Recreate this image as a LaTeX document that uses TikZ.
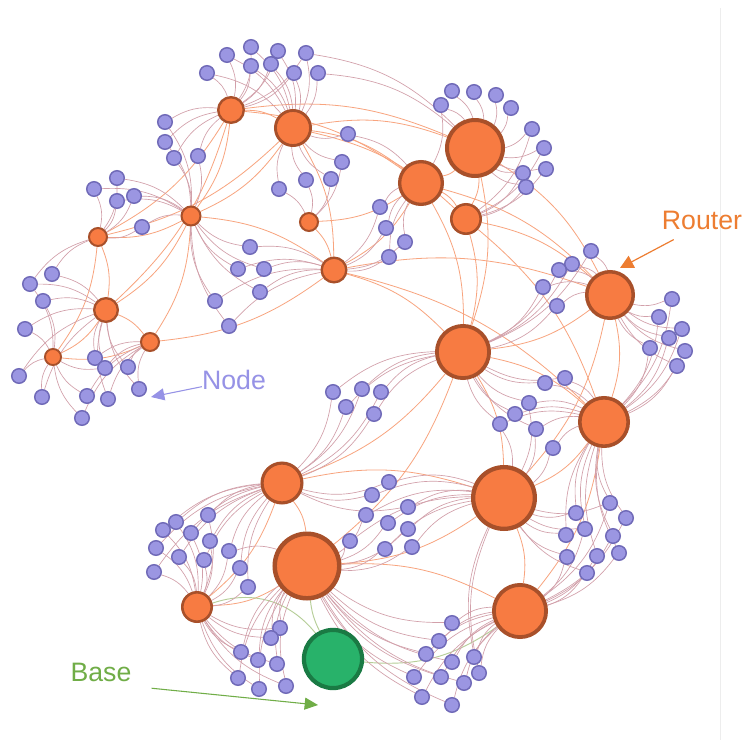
\documentclass[tikz,border=0pt]{standalone}
\usepackage{fontspec}
\setmainfont{Liberation Sans}
\usetikzlibrary{arrows.meta}
\pgfdeclarelayer{bg}
\pgfsetlayers{bg,main}
\definecolor{rfill}{RGB}{247,123,66}
\definecolor{rdraw}{RGB}{168,80,42}
\definecolor{nfill}{RGB}{155,150,226}
\definecolor{ndraw}{RGB}{112,106,184}
\definecolor{bfill}{RGB}{40,178,106}
\definecolor{bdraw}{RGB}{26,122,68}
\definecolor{linkc}{RGB}{210,160,170}
\definecolor{rlinkc}{RGB}{248,164,126}
\definecolor{blinkc}{RGB}{182,206,152}
\definecolor{routertxt}{RGB}{237,125,49}
\definecolor{nodetxt}{RGB}{150,146,230}
\definecolor{basetxt}{RGB}{112,173,71}

\begin{document}
\begin{tikzpicture}[x=0.75pt, y=-0.75pt,
    router/.style={circle, fill=rfill, draw=rdraw, inner sep=0pt},
    mote/.style={circle, fill=nfill, draw=ndraw, line width=1.1pt, inner sep=0pt, minimum size=10.9pt},
    link/.style={linkc, line width=0.5pt},
    rlink/.style={rlinkc, line width=0.6pt},
    blink/.style={blinkc, line width=0.7pt},
    tag/.style={font=\fontsize{20}{24}\selectfont, inner sep=0pt}]

    \useasboundingbox (0,0) rectangle (744,740);
    \begin{pgfonlayer}{bg}
        \fill[white] (0,0) rectangle (744,740);
        \draw[black!7, line width=0.75pt] (720,8) -- (720,740);
    \end{pgfonlayer}

    \foreach \rname/\x/\y/\rad in {r1/231/110/14, r2/293/128/19, r3/475/148/30, r4/421/183/23,
        r5/466/219/16, r6/191/216/10.5, r7/309/222/10, r8/98/237/10, r9/334/270/13.5,
        r10/610/295/25, r11/106/310/13, r12/150/342/10, r13/53/357/9, r14/463/352/28,
        r15/604/422/26, r16/282/483/21.5, r17/504/498/33, r18/307/566/34.5,
        r19/197/607/16, r20/520/611/28} {
        \node[router, line width=(1+\rad/10)*0.75pt, minimum size=(2*\rad-1-\rad/10)*0.75pt] (\rname) at (\x,\y) {};
    }
    \node[router, fill=bfill, draw=bdraw, line width=3.15pt, minimum size=43.6pt] (base) at (333,659) {};

    \begin{pgfonlayer}{bg}
        \foreach \a/\b in {r1/r2, r1/r3, r1/r4, r1/r8, r1/r11, r1/r6, r2/r3, r2/r4, r2/r6, r2/r9,
            r2/r5, r3/r4, r3/r5, r3/r10, r3/r14, r4/r7, r4/r9, r4/r14, r4/r5, r5/r14, r5/r10,
            r6/r8, r6/r11, r6/r12, r6/r9, r7/r9, r8/r11, r8/r13, r9/r14, r9/r12, r9/r10,
            r11/r12, r11/r13, r12/r13, r10/r14, r10/r15, r10/r17, r14/r15, r14/r16, r14/r17,
            r14/r18, r15/r17, r15/r20, r16/r18, r16/r17, r16/r19, r17/r18, r17/r20, r18/r19,
            r18/r20, r9/r15, r4/r10, r5/r15, r2/r8} {
            \draw[rlink] (\a) to[bend left=15] (\b);
        }
        \draw[blink] (base) to[bend left=10] (r18);
        \draw[blink] (base) to[bend right=35] (r19);
        \draw[blink] (base) to[bend right=20] (r20);
    \end{pgfonlayer}

    \foreach \x/\y/\rs [count=\i] in {
        207/73/{r1,r2}, 227/55/{r1,r2}, 251/47/{r1,r2}, 251/66/{r1,r2}, 271/64/{r1,r2},
        278/51/{r1,r2}, 306/53/{r1,r2,r3}, 294/73/{r1,r2}, 318/73/{r2,r3},
        165/122/{r1,r6}, 165/142/{r1,r6}, 174/158/{r1,r6}, 198/156/{r1,r6},
        348/134/{r2,r4}, 342/162/{r2,r7}, 306/180/{r2,r7}, 331/179/{r2,r7}, 279/189/{r2,r7},
        117/178/{r6,r8}, 94/189/{r6,r8}, 117/201/{r6,r8}, 134/196/{r6,r8}, 142/227/{r6,r8},
        250/247/{r6,r9}, 238/269/{r6,r9}, 264/269/{r6,r9}, 260/292/{r6,r9}, 215/301/{r6,r9},
        229/326/{r6,r9},
        52/274/{r8,r11}, 30/284/{r8,r11,r13}, 43/301/{r11,r13}, 25/329/{r11,r13},
        19/376/{r13,r11}, 42/397/{r13,r11}, 95/358/{r11,r12}, 105/368/{r11,r12,r13},
        128/367/{r11,r12}, 139/389/{r12,r11}, 87/396/{r13,r12}, 108/399/{r11,r12},
        82/418/{r13,r12},
        441/105/{r3,r4}, 452/91/{r3}, 474/92/{r3}, 496/95/{r3}, 511/108/{r3},
        532/129/{r3,r5}, 544/148/{r3,r5}, 523/173/{r3,r5}, 546/169/{r3,r5}, 526/187/{r3,r5},
        380/207/{r4,r9}, 386/228/{r4,r9}, 405/242/{r4,r9}, 389/257/{r4,r9},
        591/251/{r10,r14}, 572/264/{r10,r14}, 559/270/{r10,r14}, 543/287/{r10,r14},
        557/306/{r10,r14},
        672/299/{r10,r15}, 659/317/{r10,r15}, 682/329/{r10,r15}, 669/338/{r10,r15},
        650/348/{r10,r15}, 685/351/{r10,r15}, 677/366/{r10,r15},
        333/392/{r14,r16}, 362/389/{r14,r16}, 381/392/{r14,r16}, 346/407/{r14,r16},
        374/414/{r14,r16},
        545/383/{r14,r15}, 565/378/{r14,r15}, 529/403/{r14,r15,r17}, 515/414/{r14,r15},
        500/424/{r14,r15,r17}, 536/429/{r14,r15,r17}, 553/448/{r15,r17},
        610/503/{r15,r17,r20}, 576/513/{r15,r17}, 626/518/{r15,r20}, 585/529/{r15,r17,r20},
        566/535/{r15,r17}, 613/536/{r15,r20}, 567/557/{r17,r20}, 597/556/{r15,r20},
        619/553/{r15,r20}, 587/573/{r17,r20},
        389/482/{r17,r16}, 372/495/{r17,r16}, 366/515/{r17,r18}, 408/507/{r17,r16},
        388/523/{r17,r18}, 408/529/{r17,r18}, 350/541/{r17,r18}, 385/549/{r17,r18},
        412/547/{r17,r18},
        208/515/{r16,r19}, 176/522/{r16,r19}, 163/530/{r16,r19}, 191/533/{r16,r19},
        210/541/{r16,r19}, 156/548/{r16,r19}, 179/557/{r16,r19}, 204/560/{r16,r19},
        229/551/{r16,r19,r18}, 240/568/{r16,r19}, 154/572/{r19,r16}, 248/587/{r16,r19},
        280/628/{r18,r19}, 271/638/{r18,r19}, 241/652/{r18,r19}, 258/660/{r18,r19},
        277/664/{r18,r19}, 238/678/{r19,r18}, 259/689/{r19,r18}, 286/686/{r18,r19},
        452/623/{r20,r18}, 439/641/{r20,r18}, 426/654/{r20,r18}, 452/662/{r20,r18},
        474/657/{r20,r17}, 479/673/{r20,r17}, 414/677/{r20,r18}, 441/677/{r20,r18},
        464/683/{r20,r18}, 422/697/{r20,r18}, 452/705/{r20,r18}} {
        \node[mote] (n\i) at (\x,\y) {};
        \begin{pgfonlayer}{bg}
            \foreach \rt in \rs {
                \draw[link] (n\i) to[bend left=18] (\rt);
            }
        \end{pgfonlayer}
    }

    \node[tag, text=routertxt] (routertag) at (702,220) {Router};
    \node[tag, text=nodetxt] (nodetag) at (234,380) {Node};
    \node[tag, text=basetxt] (basetag) at (101,672) {Base};
    \coordinate (routertip) at (620,268);
    \coordinate (nodetip) at (151,397);
    \coordinate (basetip) at (318,705);

    \draw[routertxt, line width=0.9pt, -{Triangle[length=10pt, width=10pt]}] ([xshift=9pt, yshift=-7.5pt]routertag.south west) -- (routertip);
    \draw[nodetxt, line width=0.8pt, -{Triangle[length=10pt, width=9pt]}] ([yshift=-5pt]nodetag.west) -- (nodetip);
    \draw[basetxt, line width=0.8pt, -{Triangle[length=10pt, width=9pt]}] ([xshift=15pt, yshift=-5pt]basetag.south east) -- (basetip);
\end{tikzpicture}
\end{document}
